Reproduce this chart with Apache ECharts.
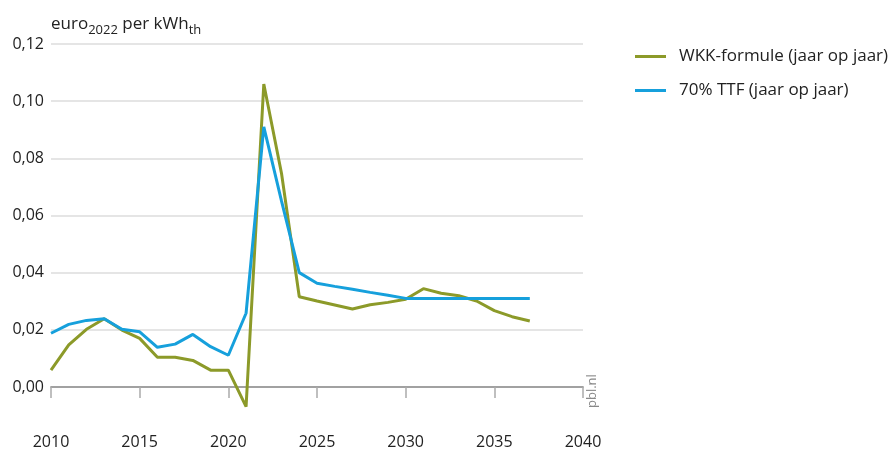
<!DOCTYPE html>
<html><head><meta charset="utf-8">
<script src="https://cdn.jsdelivr.net/npm/echarts@6/dist/echarts.min.js"></script>
<style>html,body{margin:0;padding:0;background:#fff}#c{width:895px;height:450px}</style>
</head><body><div id="c"></div>
<script>
var years = [2010,2011,2012,2013,2014,2015,2016,2017,2018,2019,2020,2021,2022,2023,2024,2025,2026,2027,2028,2029,2030,2031,2032,2033,2034,2035,2036,2037];
var wkk = [0.0059,0.0147,0.0202,0.0239,0.0199,0.0170,0.0104,0.0104,0.0093,0.0059,0.0059,-0.0069,0.106,0.0747,0.0316,0.0301,0.0287,0.0273,0.0288,0.0296,0.0307,0.0344,0.0328,0.0319,0.0301,0.0267,0.0246,0.0231];
var ttf = [0.0188,0.0219,0.0233,0.0239,0.0202,0.0193,0.0139,0.0150,0.0184,0.0141,0.0111,0.0258,0.091,0.065,0.040,0.0363,0.0352,0.0342,0.0331,0.0321,0.0310,0.0310,0.0310,0.0310,0.0310,0.0310,0.0310,0.0310];
var seriesNames = ['WKK-formule (jaar op jaar)','70% TTF (jaar op jaar)'];
var xTicks = [2010,2040,5];
var yTicks = [0,0.12,0.02];
var yDataMin = -0.0084;

var FONT = '"Open Sans", "DejaVu Sans", sans-serif';
var chart = echarts.init(document.getElementById('c'), null, {renderer:'canvas'});
function pairs(v){ return years.map(function(y,i){ return [y, v[i]]; }); }
chart.setOption({
  animation:false,
  textStyle:{fontFamily:FONT},
  grid:[
    {left:51, right:312, top:44, bottom:39},
    {left:51, right:312, top:44, bottom:63}
  ],
  xAxis:[
    {gridIndex:0, type:'value', min:xTicks[0], max:xTicks[1], interval:xTicks[2],
     axisLine:{show:true, lineStyle:{color:'#aaaaaa', width:1.5}},
     axisTick:{show:true, length:11, lineStyle:{color:'#aaaaaa', width:1.5}},
     axisLabel:{color:'#222', fontSize:16, margin:23, fontFamily:FONT, formatter:function(v){return String(v);}},
     splitLine:{show:false}},
    {gridIndex:1, type:'value', min:xTicks[0], max:xTicks[1], interval:xTicks[2],
     axisLine:{show:true, onZero:false, lineStyle:{color:'#999999', width:1.5}},
     axisTick:{show:false}, axisLabel:{show:false}, splitLine:{show:false}}
  ],
  yAxis:[
    {gridIndex:0, type:'value', min:yDataMin, max:yTicks[1],
     axisLine:{show:false}, axisTick:{show:false}, axisLabel:{show:false}, splitLine:{show:false}},
    {gridIndex:1, type:'value', min:yTicks[0], max:yTicks[1], interval:yTicks[2],
     axisLine:{show:false}, axisTick:{show:false},
     axisLabel:{color:'#222', fontSize:16, margin:7, fontFamily:FONT,
       formatter:function(v){return v.toFixed(2).replace('.',',');}},
     splitLine:{show:true, lineStyle:{color:'#dddddd', width:1.5}}}
  ],
  legend:{
    orient:'vertical', left:630, top:43, itemWidth:31, itemHeight:3, itemGap:17,
    icon:'rect',
    textStyle:{fontSize:17, color:'#222', fontFamily:FONT, padding:[0,0,0,8]},
    data:seriesNames
  },
  graphic:[
    {type:'text', left:51, top:16, style:{
      rich:{
        a:{fontSize:17, fill:'#222', fontFamily:FONT},
        s:{fontSize:13, fill:'#222', fontFamily:FONT, padding:[12,0,0,0]}
      },
      text:'{a|euro}{s|2022}{a| per kWh}{s|th}'
    }},
    {type:'text', x:586, y:408, rotation:Math.PI/2, style:{
      text:'pbl.nl', fill:'#888', fontSize:13, fontFamily:FONT}}
  ],
  series:[
    {name:seriesNames[0], type:'line', xAxisIndex:0, yAxisIndex:0, data:pairs(wkk),
     showSymbol:false, symbol:'none', z:3, lineStyle:{color:'#8c9a29', width:3}, itemStyle:{color:'#8c9a29'}},
    {name:seriesNames[1], type:'line', xAxisIndex:0, yAxisIndex:0, data:pairs(ttf),
     showSymbol:false, symbol:'none', z:4, lineStyle:{color:'#16a0dc', width:3}, itemStyle:{color:'#16a0dc'}}
  ]
});
</script></body></html>
